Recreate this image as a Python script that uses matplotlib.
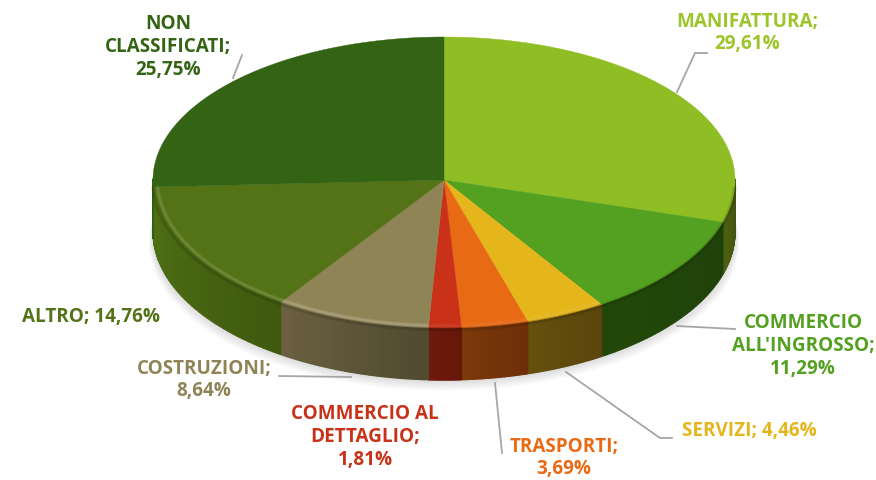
import numpy as np
import matplotlib
matplotlib.use("Agg")
import matplotlib.pyplot as plt
from matplotlib.collections import PolyCollection
from matplotlib.colors import to_rgb

labels = ["MANIFATTURA", "COMMERCIO\nALL'INGROSSO", "SERVIZI", "TRASPORTI",
          "COMMERCIO AL\nDETTAGLIO", "COSTRUZIONI", "ALTRO", "NON\nCLASSIFICATI"]
values = [29.61, 11.29, 4.46, 3.69, 1.81, 8.64, 14.76, 25.75]
top_colors = ["#8fbe24", "#54a020", "#e5b51c", "#e86a14", "#c93218", "#8f8455", "#547316", "#336414"]
side_start = ["#4e6010", "#224809", "#65500e", "#7a3a0a", "#6e1a0c", "#6b6040", "#4f7014", "#2e6012"]
side_end = ["#3f5010", "#1f420a", "#5a450c", "#6e2e08", "#661609", "#504a30", "#3f5a0e", "#2e6012"]
text_colors = ["#9cc52a", "#54a020", "#e5b51c", "#e86a14", "#c93218", "#8f8455", "#547316", "#336414"]
bevel_alpha = [0.0, 0.0, 0.06, 0.06, 0.06, 0.2, 0.14, 0.05]

# label text: centre x, centre y, joiner between name and value
label_pos = [(747, 33, "\n"), (803, 346, "\n"), (749, 431, " "), (564, 458, "\n"),
             (365, 437, "\n"), (204, 380, "\n"), (91, 317, " "), (168, 47, "\n")]
leaders = [[(707, 53), (695, 53), (677, 92)], [(735, 329), (677, 326)],
           [(566, 372), (660, 438), (672, 438)], [(495, 383), (502, 453)],
           None, [(279, 376), (351, 377)], None, [(242, 55), (233, 78)]]

cx, cy = 444, 180
rx, ry_back, ry_front = 291, 143, 148
depth = 52


def rim(theta, scale=1.0):
    # theta clockwise from the top
    c = np.cos(theta)
    ry = np.where(c > 0, ry_back, ry_front)
    return cx + scale * rx * np.sin(theta), cy - scale * ry * c


def mix(a, b, t):
    a, b = np.array(to_rgb(a)), np.array(to_rgb(b))
    return tuple(a + (b - a) * t)


fig = plt.figure(figsize=(8.76, 4.8), dpi=100)
ax = fig.add_axes([0, 0, 1, 1])
ax.set_xlim(0, 876)
ax.set_ylim(480, 0)
ax.axis("off")

# soft shadow under the pie
t = np.linspace(np.pi * 0.42, np.pi * 1.58, 300)
x, y = rim(t)
for grow in np.arange(12, 0, -1):
    ax.fill(cx + (x - cx) * (1 + grow * 0.0012), y + depth + grow * 0.9,
            color="#808080", alpha=0.022, lw=0, zorder=1)

edges = np.cumsum([0] + values) / sum(values) * 2 * np.pi

# side wall, only the part that faces the viewer
for i in range(len(values)):
    a0, a1 = max(edges[i], np.pi / 2), min(edges[i + 1], np.pi * 1.5)
    if a1 <= a0:
        continue
    t = np.linspace(a0, a1, 40)
    x, y = rim(t)
    quads = [[(x[j], y[j] - 1), (x[j + 1], y[j + 1] - 1), (x[j + 1], y[j + 1] + depth), (x[j], y[j] + depth)]
             for j in range(len(t) - 1)]
    # wall runs right to left on screen, the right side is the darker one
    cols = [mix(side_end[i], side_start[i], j / (len(t) - 2)) for j in range(len(t) - 1)]
    ax.add_collection(PolyCollection(quads, facecolors=cols, edgecolors=cols, linewidths=0.9, zorder=2))

# top face with a bevel along the outer edge
for i in range(len(values)):
    t = np.linspace(edges[i], edges[i + 1], 120)
    x, y = rim(t)
    ax.fill(np.r_[cx, x], np.r_[cy, y], color=top_colors[i], lw=0.3, zorder=3)
    front = (np.cos(t) < 0.02) & (np.abs(np.sin(t)) < 0.9995)
    if front.sum() > 1:
        tf = t[front]
        xf, yf = rim(tf, 1.0)
        ax.plot(xf, yf + 1.2, color="#000000", lw=3, alpha=0.12, solid_capstyle="butt", zorder=4)
        if bevel_alpha[i] > 0:
            xf, yf = rim(tf, 0.985)
            ax.plot(xf, yf, color="#ffffff", lw=3, alpha=bevel_alpha[i] * 0.5, solid_capstyle="butt", zorder=4)
            ax.plot(xf, yf, color="#ffffff", lw=1.4, alpha=bevel_alpha[i] * 0.6, solid_capstyle="butt", zorder=4)

for line in leaders:
    if line:
        ax.plot(*zip(*line), color="#a6a6a6", lw=1.3, zorder=5)

for i, (px, py, joiner) in enumerate(label_pos):
    txt = labels[i] + ";" + joiner + f"{values[i]:.2f}".replace(".", ",") + "%"
    ax.text(px, py, txt, ha="center", va="center", color=text_colors[i], family="Open Sans",
            fontweight="bold", fontsize=13.6, linespacing=1.17, zorder=6)

fig.savefig("out.png", dpi=100)
